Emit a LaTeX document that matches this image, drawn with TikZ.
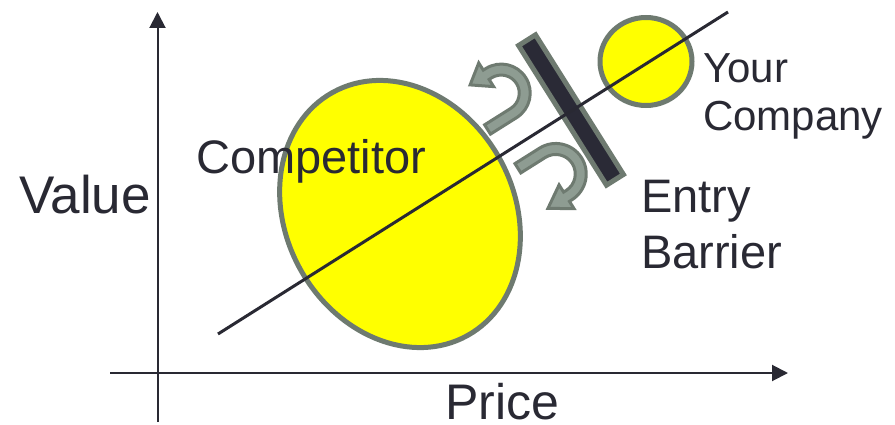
\documentclass[tikz,border=0pt]{standalone}
\usepackage{fontspec}
\setmainfont{Liberation Sans}
\usetikzlibrary{arrows.meta,shapes.geometric}
\definecolor{ink}{RGB}{41,41,51}
\definecolor{rim}{RGB}{110,122,112}
\definecolor{arrowfill}{RGB}{142,156,146}
\definecolor{barfill}{RGB}{42,42,54}
\definecolor{blob}{RGB}{255,255,0}
\begin{document}
\begin{tikzpicture}[x=1pt,y=1pt,
  axis/.style={draw=ink,line width=2pt,-{Triangle[length=16pt,width=16pt]}},
  trend/.style={draw=ink,line width=3pt},
  firm/.style={ellipse,draw=rim,fill=blob,line width=5pt,inner sep=0pt},
  wall/.style={rectangle,draw=rim,fill=barfill,line width=5pt,inner sep=0pt},
  bounce/.style={draw=rim,fill=arrowfill,line width=3pt},
  lbl/.style={text=ink,inner sep=0pt,anchor=base west}]
\useasboundingbox (0,0) rectangle (895,424);
% shapes
\node[firm,minimum width=228pt,minimum height=278pt,rotate=29] (comp) at (400,210) {};
\node[firm,minimum width=92pt,minimum height=88pt] (you) at (646,362.5) {};
\node[wall,minimum width=20pt,minimum height=165pt,rotate=32.2] (bar) at (571,314) {};
% bouncing arrows in the barrier frame
\begin{scope}[shift={(bar.center)},rotate=32.2]
  \draw[bounce] (-81,22.5) -- (-50,22.5) arc[start angle=-90,end angle=90,radius=29]
    -- (-53,80.5) -- (-53,89) -- (-72,75) -- (-53,61) -- (-53,69.5) -- (-50,69.5)
    arc[start angle=90,end angle=-90,radius=18] -- (-81,33.5) -- cycle;
  \begin{scope}[yscale=-1]
  \draw[bounce] (-76,15.5) -- (-47,15.5) arc[start angle=-90,end angle=90,radius=30.5]
    -- (-50,76.5) -- (-50,85) -- (-72,71) -- (-50,57) -- (-50,65.5) -- (-47,65.5)
    arc[start angle=90,end angle=-90,radius=19.5] -- (-76,26.5) -- cycle;
  \end{scope}
\end{scope}
% trend line
\coordinate (d1) at (218,90);
\coordinate (d2) at (728,412);
\draw[trend] (d1) -- (d2);
% axes
\coordinate (yb) at (157.5,2);
\coordinate (yt) at (157.5,412);
\coordinate (xl) at (110,51);
\coordinate (xr) at (788,51);
\draw[axis] (yb) -- (yt);
\draw[axis] (xl) -- (xr);
% labels
\node[lbl,font=\fontsize{53}{60}\selectfont] (value) at (19,211) {Value};
\node[lbl,font=\fontsize{50}{58}\selectfont] (price) at (445,5) {Price};
\node[lbl,font=\fontsize{47}{54}\selectfont] (complbl) at (196,251) {Competitor};
\node[lbl,font=\fontsize{42}{47}\selectfont] (your) at (703,341) {Your};
\node[lbl,font=\fontsize{42}{47}\selectfont] (company) at (703,294) {Company};
\node[lbl,font=\fontsize{47}{54}\selectfont] (entry) at (641,212) {Entry};
\node[lbl,font=\fontsize{47}{54}\selectfont] (barrier) at (641,156) {Barrier};
\end{tikzpicture}
\end{document}
